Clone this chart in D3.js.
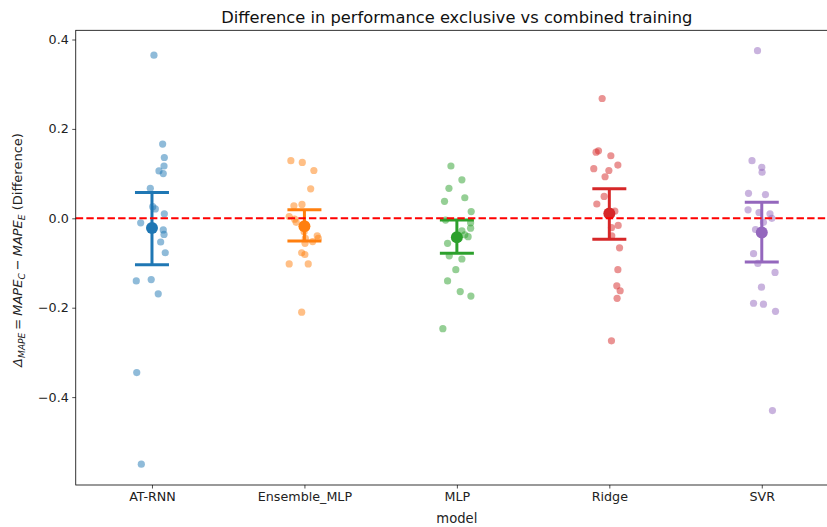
<!DOCTYPE html>
<html>
<head>
<meta charset="utf-8">
<script src="https://cdn.jsdelivr.net/npm/d3@7"></script>
<style>
  html, body { margin: 0; padding: 0; background: #fff; }
  svg { display: block; font-family: "DejaVu Sans", sans-serif; }
</style>
</head>
<body>
<svg id="chart" width="827" height="527"></svg>
<script>
// Models compared
const models = ["AT-RNN", "Ensemble_MLP", "MLP", "Ridge", "SVR"];

// Per-run difference MAPE_C - MAPE_E for each model
const atRnn = [0.365, 0.166, 0.136, 0.117, 0.106, 0.100, 0.067, 0.026, 0.021, 0.010,
  -0.010, -0.026, -0.036, -0.053, -0.077, -0.140, -0.137, -0.169, -0.345, -0.550];
const ensembleMlp = [0.129, 0.125, 0.107, 0.066, 0.028, 0.031, 0.004, -0.002, -0.009, -0.030,
  -0.039, -0.045, -0.045, -0.052, -0.056, -0.077, -0.081, -0.102, -0.102, -0.210];
const mlp = [0.117, 0.086, 0.067, 0.038, 0.046, 0.015, -0.004, -0.010, -0.022, -0.028,
  -0.037, -0.041, -0.056, -0.084, -0.091, -0.115, -0.140, -0.164, -0.174, -0.247];
const ridge = [0.268, 0.151, 0.148, 0.140, 0.119, 0.111, 0.107, 0.093, 0.049, 0.032,
  0.016, -0.016, -0.021, -0.039, -0.066, -0.115, -0.151, -0.162, -0.179, -0.274];
const svr = [0.375, 0.129, 0.114, 0.103, 0.056, 0.053, 0.019, 0.013, 0.010, 0.000,
  -0.009, -0.025, -0.079, -0.101, -0.121, -0.154, -0.190, -0.192, -0.208, -0.430];

// Strip jitter of each run, in units of the spacing between models
const atRnnJitter = [0.013, 0.070, 0.081, 0.079, 0.046, 0.074, -0.011, 0.005, 0.022, 0.081,
  -0.074, 0.074, 0.079, 0.057, 0.087, -0.103, -0.005, 0.041, -0.100, -0.070];
const ensembleMlpJitter = [-0.089, -0.014, 0.062, 0.041, -0.069, -0.016, -0.100, -0.064, -0.054, -0.002,
  0.084, 0.006, 0.091, 0.054, 0.004, -0.018, 0.003, -0.100, 0.025, -0.018];
const mlpJitter = [-0.039, 0.033, -0.052, -0.081, 0.052, 0.094, -0.074, 0.090, 0.090, 0.033,
  0.052, 0.074, -0.061, -0.050, 0.033, -0.007, -0.061, 0.022, 0.092, -0.092];
const ridgeJitter = [-0.047, -0.071, -0.087, 0.010, 0.056, -0.102, -0.003, -0.028, -0.034, -0.082,
  0.036, 0.058, 0.014, 0.016, 0.067, 0.056, 0.049, 0.071, 0.051, 0.014];
const svrJitter = [-0.028, -0.064, 0.000, 0.002, -0.087, 0.024, -0.090, -0.018, 0.054, 0.066,
  0.011, -0.041, -0.054, -0.026, 0.087, -0.002, -0.054, 0.011, 0.090, 0.070];

// 95% confidence interval of the mean for each model
const ciLow = [-0.104, -0.051, -0.078, -0.047, -0.098];
const ciHigh = [0.058, 0.019, -0.004, 0.066, 0.036];

// Y axis ticks
const yTicks = [-0.4, -0.2, 0.0, 0.2, 0.4];

const seriesValues = [atRnn, ensembleMlp, mlp, ridge, svr];
const seriesJitter = [atRnnJitter, ensembleMlpJitter, mlpJitter, ridgeJitter, svrJitter];
const colors = ["#1f77b4", "#ff7f0e", "#2ca02c", "#d62728", "#9467bd"];

const svg = d3.select("#chart");
const plot = { left: 75.75, right: 838, top: 30.3, bottom: 485 };

const x = d3.scalePoint().domain(models).range([plot.left, plot.right]).padding(0.5);
const step = x.step();
const y = d3.scaleLinear().domain([-0.5966, 0.4206]).range([plot.bottom, plot.top]);

// Strip of individual runs
models.forEach((m, i) => {
  svg.append("g")
    .selectAll("circle")
    .data(seriesValues[i].map((v, k) => ({ v, j: seriesJitter[i][k] })))
    .join("circle")
    .attr("cx", d => x(m) + d.j * step)
    .attr("cy", d => y(d.v))
    .attr("r", 3.6)
    .attr("fill", colors[i])
    .attr("fill-opacity", 0.5);
});

// Mean with confidence interval
const capHalf = 17;
models.forEach((m, i) => {
  const g = svg.append("g").attr("stroke", colors[i]).attr("stroke-width", 3);
  const cx = x(m);
  g.append("line").attr("x1", cx).attr("x2", cx).attr("y1", y(ciLow[i])).attr("y2", y(ciHigh[i]));
  g.append("line").attr("x1", cx - capHalf).attr("x2", cx + capHalf).attr("y1", y(ciLow[i])).attr("y2", y(ciLow[i]));
  g.append("line").attr("x1", cx - capHalf).attr("x2", cx + capHalf).attr("y1", y(ciHigh[i])).attr("y2", y(ciHigh[i]));
  svg.append("circle")
    .attr("cx", cx)
    .attr("cy", y(d3.mean(seriesValues[i])))
    .attr("r", 6)
    .attr("fill", colors[i]);
});

// Zero reference line
svg.append("line")
  .attr("x1", plot.left).attr("x2", plot.right)
  .attr("y1", y(0)).attr("y2", y(0))
  .attr("stroke", "red").attr("stroke-width", 2)
  .attr("stroke-dasharray", "7.4,3.2");

// Axes
const tickFont = 12.7;
const yAxis = d3.axisLeft(y).tickValues(yTicks).tickSize(3.5).tickPadding(3.5)
  .tickFormat(d => d3.format(".1f")(d).replace("-", "\u2212"));
const gy = svg.append("g").attr("transform", `translate(${plot.left},0)`).call(yAxis);
gy.select(".domain").remove();
gy.selectAll("text").attr("font-size", tickFont).attr("fill", "#222").attr("font-family", "DejaVu Sans");
gy.selectAll("line").attr("stroke", "#222").attr("stroke-width", 0.8);

const xAxis = d3.axisBottom(x).tickSize(3.5).tickPadding(3.5);
const gx = svg.append("g").attr("transform", `translate(0,${plot.bottom})`).call(xAxis);
gx.select(".domain").remove();
gx.selectAll("text").attr("font-size", tickFont).attr("fill", "#222").attr("font-family", "DejaVu Sans");
gx.selectAll("line").attr("stroke", "#222").attr("stroke-width", 0.8);

// Frame
svg.append("rect")
  .attr("x", plot.left).attr("y", plot.top)
  .attr("width", plot.right - plot.left).attr("height", plot.bottom - plot.top)
  .attr("fill", "none").attr("stroke", "#000").attr("stroke-width", 0.8);

// Title and axis labels
svg.append("text")
  .attr("x", (plot.left + plot.right) / 2).attr("y", 22.5)
  .attr("text-anchor", "middle").attr("font-size", 16.3).attr("fill", "#111")
  .text("Difference in performance exclusive vs combined training");

svg.append("text")
  .attr("x", (plot.left + plot.right) / 2).attr("y", 523)
  .attr("text-anchor", "middle").attr("font-size", 13.2).attr("fill", "#222")
  .text("model");

// Y label with math-style subscripts
const labelFont = 13, subFont = 9.1;
const yl = svg.append("text")
  .attr("transform", `translate(22,250) rotate(-90)`)
  .attr("text-anchor", "middle").attr("font-size", labelFont).attr("fill", "#222");
const part = (txt, opts = {}) => {
  const t = yl.append("tspan").text(txt);
  if (opts.italic) t.attr("font-style", "italic");
  if (opts.sub) t.attr("font-size", subFont);
  if (opts.dy) t.attr("dy", opts.dy);
  if (opts.dx) t.attr("dx", opts.dx);
  return t;
};
part("\u0394", { italic: true });
part("MAPE", { italic: true, sub: true, dy: 3 });
part("=", { dy: -3, dx: 3 });
part("MAPE", { italic: true, dx: 3 });
part("C", { italic: true, sub: true, dy: 3 });
part("\u2212", { dy: -3, dx: 3 });
part("MAPE", { italic: true, dx: 3 });
part("E", { italic: true, sub: true, dy: 3 });
part(" (Difference)", { dy: -3 });
</script>
</body>
</html>
